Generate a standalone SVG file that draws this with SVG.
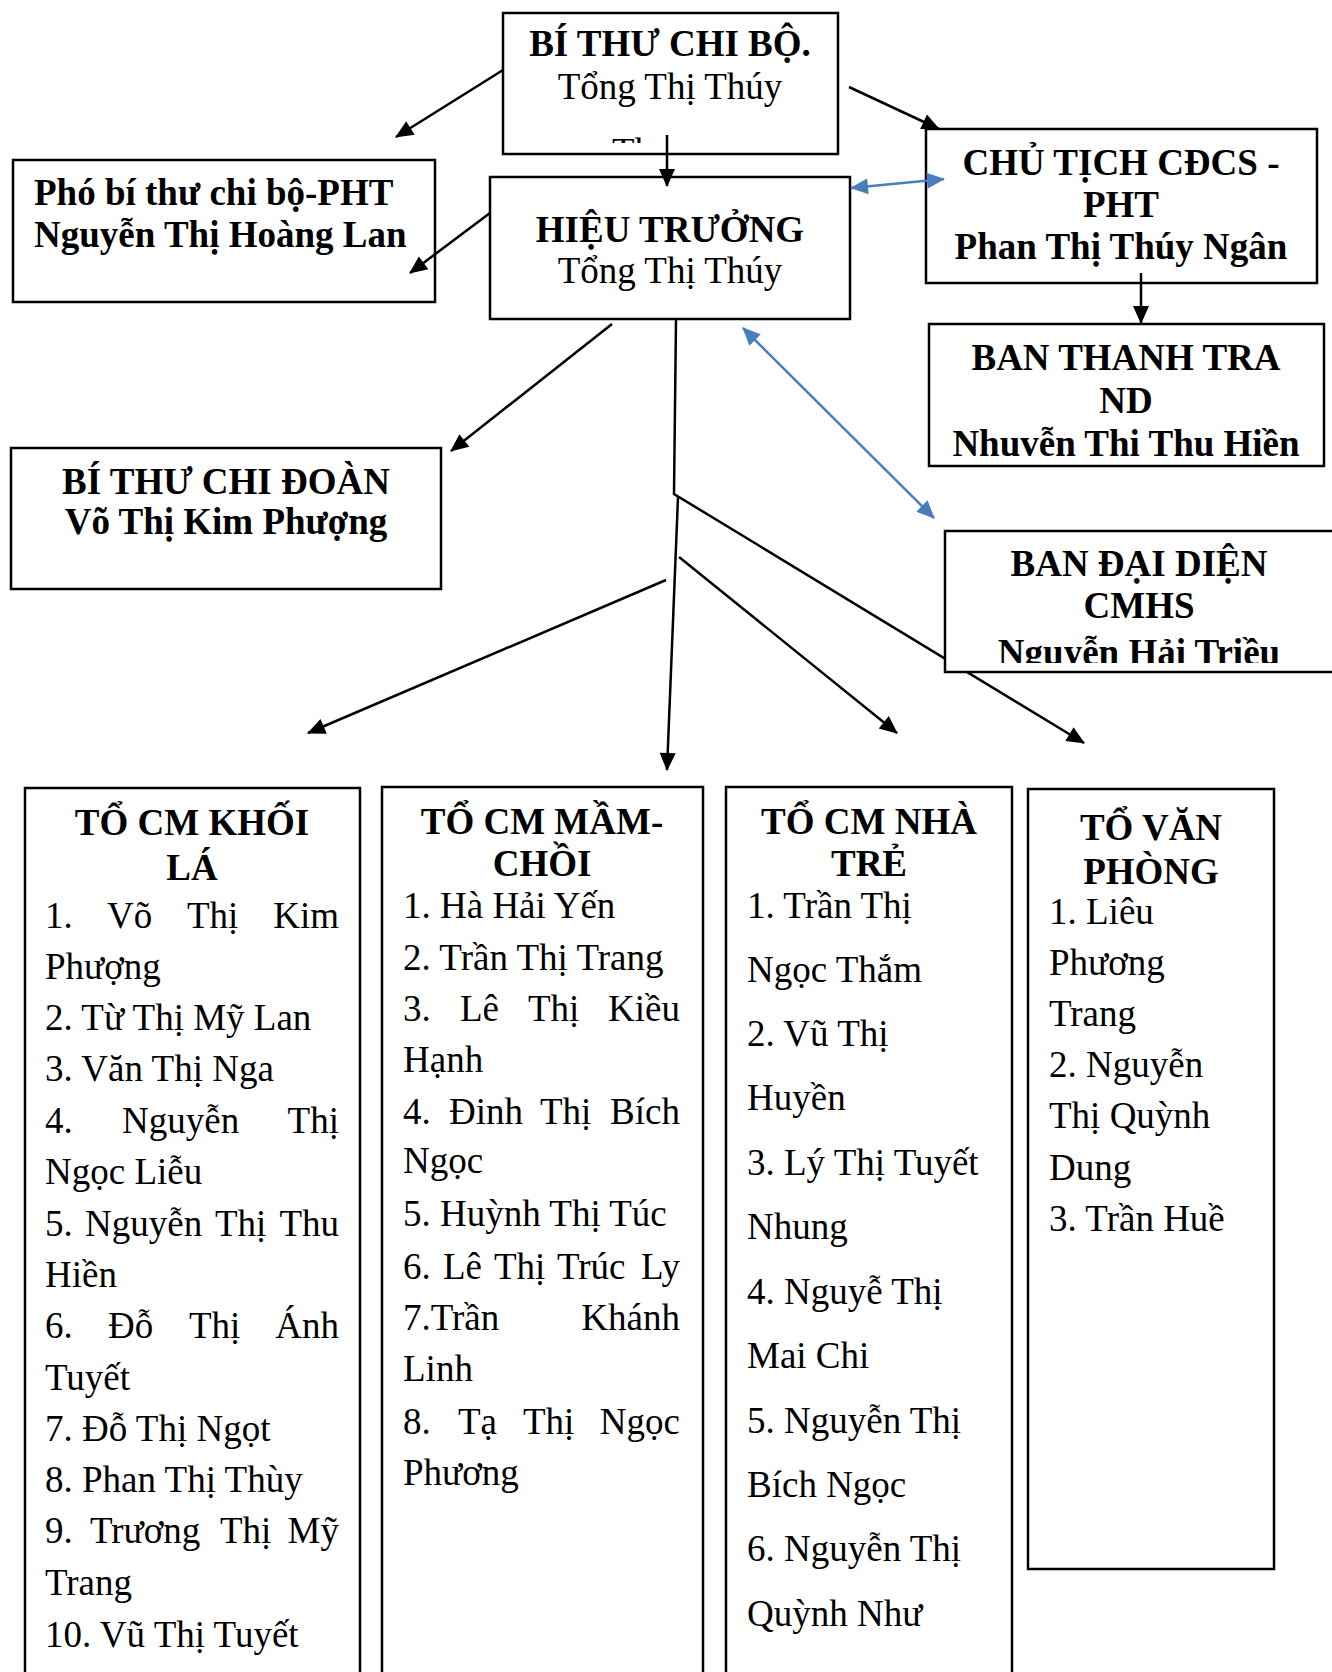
<svg xmlns="http://www.w3.org/2000/svg" width="1332" height="1672" viewBox="0 0 1332 1672">
<style>
.box{fill:#fff;stroke:#000;stroke-width:2.5}
.b{font-family:"Liberation Serif","Times New Roman",serif;font-weight:bold;font-size:37px;fill:#000}
.r{font-family:"Liberation Serif","Times New Roman",serif;font-size:37px;fill:#000}
.c{text-anchor:middle}
.e{text-anchor:end}
.ln{stroke:#000;stroke-width:2.5;fill:none}
.bl{stroke:#4A7EBB;stroke-width:2.5;fill:none}
</style>
<defs>
<marker id="ah" markerUnits="userSpaceOnUse" markerWidth="22" markerHeight="18" refX="17" refY="8" orient="auto" overflow="visible"><path d="M0,0 L18,8 L0,16 z" fill="#000"/></marker>
<marker id="bh" markerUnits="userSpaceOnUse" markerWidth="22" markerHeight="18" refX="17" refY="8" orient="auto-start-reverse" overflow="visible"><path d="M0,0 L18,8 L0,16 z" fill="#4A7EBB"/></marker>
<clipPath id="clipTh"><rect x="503" y="100" width="335" height="43"/></clipPath>
<clipPath id="clipDD"><rect x="945" y="531" width="400" height="132"/></clipPath>
</defs>

<g id="bi-thu-chi-bo">
<rect class="box" x="503" y="13" width="335" height="141"/>
<text class="b c" x="670" y="56">BÍ THƯ CHI BỘ.</text>
<text class="r c" x="670" y="99">Tổng Thị Thúy</text>
<text class="r" x="612" y="164" clip-path="url(#clipTh)">Th</text>
</g>

<g id="pho-bi-thu">
<rect class="box" x="13" y="160" width="422" height="142"/>
<text class="b" x="34" y="205">Phó bí thư chi bộ-PHT</text>
<text class="b" x="34" y="247">Nguyễn Thị Hoàng Lan</text>
</g>

<g id="hieu-truong">
<rect class="box" x="490" y="177" width="360" height="142"/>
<text class="b c" x="670" y="242">HIỆU TRƯỞNG</text>
<text class="r c" x="670" y="283">Tổng Thị Thúy</text>
</g>

<g id="chu-tich">
<rect class="box" x="926" y="129" width="391" height="154"/>
<text class="b c" x="1121" y="175">CHỦ TỊCH CĐCS -</text>
<text class="b c" x="1121" y="217">PHT</text>
<text class="b c" x="1121" y="259">Phan Thị Thúy Ngân</text>
</g>

<g id="ban-thanh-tra">
<rect class="box" x="929" y="324" width="395" height="142"/>
<text class="b c" x="1126" y="370">BAN THANH TRA</text>
<text class="b c" x="1126" y="413">ND</text>
<text class="b c" x="1126" y="456">Nhuvễn Thi Thu Hiền</text>
</g>

<g id="bi-thu-chi-doan">
<rect class="box" x="11" y="448" width="430" height="141"/>
<text class="b c" x="226" y="494">BÍ THƯ CHI ĐOÀN</text>
<text class="b c" x="226" y="534">Võ Thị Kim Phượng</text>
</g>

<g id="to-khoi-la">
<rect class="box" x="25" y="788" width="335" height="920"/>
<text class="b c" x="192" y="835">TỔ CM KHỐI</text>
<text class="b c" x="192" y="880">LÁ</text>
<text class="r" y="928"><tspan x="45">1.</tspan><tspan x="107">Võ</tspan><tspan x="187">Thị</tspan><tspan x="339" text-anchor="end">Kim</tspan></text>
<text class="r" x="45" y="979">Phượng</text>
<text class="r" x="45" y="1030">2. Từ Thị Mỹ Lan</text>
<text class="r" x="45" y="1081">3. Văn Thị Nga</text>
<text class="r" y="1133"><tspan x="45">4.</tspan><tspan x="122">Nguyễn</tspan><tspan x="339" text-anchor="end">Thị</tspan></text>
<text class="r" x="45" y="1184">Ngọc Liễu</text>
<text class="r" y="1236"><tspan x="45">5.</tspan><tspan x="85">Nguyễn</tspan><tspan x="215">Thị</tspan><tspan x="339" text-anchor="end">Thu</tspan></text>
<text class="r" x="45" y="1287">Hiền</text>
<text class="r" y="1338"><tspan x="45">6.</tspan><tspan x="108">Đỗ</tspan><tspan x="189">Thị</tspan><tspan x="339" text-anchor="end">Ánh</tspan></text>
<text class="r" x="45" y="1390">Tuyết</text>
<text class="r" x="45" y="1441">7. Đỗ Thị Ngọt</text>
<text class="r" x="45" y="1492">8. Phan Thị Thùy</text>
<text class="r" y="1543"><tspan x="45">9.</tspan><tspan x="90">Trương</tspan><tspan x="220">Thị</tspan><tspan x="339" text-anchor="end">Mỹ</tspan></text>
<text class="r" x="45" y="1595">Trang</text>
<text class="r" x="45" y="1647">10. Vũ Thị Tuyết</text>
</g>

<g id="to-mam-choi">
<rect class="box" x="382" y="787" width="321" height="920"/>
<text class="b c" x="542" y="834">TỔ CM MẦM-</text>
<text class="b c" x="542" y="876">CHỒI</text>
<text class="r" x="403" y="918">1. Hà Hải Yến</text>
<text class="r" x="403" y="970">2. Trần Thị Trang</text>
<text class="r" y="1021"><tspan x="403">3.</tspan><tspan x="460">Lê</tspan><tspan x="528">Thị</tspan><tspan x="680" text-anchor="end">Kiều</tspan></text>
<text class="r" x="403" y="1072">Hạnh</text>
<text class="r" y="1124"><tspan x="403">4.</tspan><tspan x="449">Đinh</tspan><tspan x="540">Thị</tspan><tspan x="680" text-anchor="end">Bích</tspan></text>
<text class="r" x="403" y="1173">Ngọc</text>
<text class="r" x="403" y="1226">5. Huỳnh Thị Túc</text>
<text class="r" y="1279"><tspan x="403">6.</tspan><tspan x="443">Lê</tspan><tspan x="494">Thị</tspan><tspan x="557">Trúc</tspan><tspan x="680" text-anchor="end">Ly</tspan></text>
<text class="r" y="1330"><tspan x="403">7.Trần</tspan><tspan x="680" text-anchor="end">Khánh</tspan></text>
<text class="r" x="403" y="1381">Linh</text>
<text class="r" y="1434"><tspan x="403">8.</tspan><tspan x="458">Tạ</tspan><tspan x="523">Thị</tspan><tspan x="680" text-anchor="end">Ngọc</tspan></text>
<text class="r" x="403" y="1485">Phương</text>
</g>

<g id="to-nha-tre">
<rect class="box" x="726" y="787" width="286" height="920"/>
<text class="b c" x="869" y="834">TỔ CM NHÀ</text>
<text class="b c" x="869" y="876">TRẺ</text>
<text class="r" x="747" y="918">1. Trần Thị</text>
<text class="r" x="747" y="982">Ngọc Thắm</text>
<text class="r" x="747" y="1046">2. Vũ Thị</text>
<text class="r" x="747" y="1110">Huyền</text>
<text class="r" x="747" y="1175">3. Lý Thị Tuyết</text>
<text class="r" x="747" y="1239">Nhung</text>
<text class="r" x="747" y="1304">4. Nguyễ Thị</text>
<text class="r" x="747" y="1368">Mai Chi</text>
<text class="r" x="747" y="1433">5. Nguyễn Thị</text>
<text class="r" x="747" y="1497">Bích Ngọc</text>
<text class="r" x="747" y="1561">6. Nguyễn Thị</text>
<text class="r" x="747" y="1626">Quỳnh Như</text>
</g>

<g id="to-van-phong">
<rect class="box" x="1028" y="789" width="246" height="780"/>
<text class="b c" x="1151" y="840">TỔ VĂN</text>
<text class="b c" x="1151" y="884">PHÒNG</text>
<text class="r" x="1049" y="924">1. Liêu</text>
<text class="r" x="1049" y="975">Phương</text>
<text class="r" x="1049" y="1026">Trang</text>
<text class="r" x="1049" y="1077">2. Nguyễn</text>
<text class="r" x="1049" y="1128">Thị Quỳnh</text>
<text class="r" x="1049" y="1180">Dung</text>
<text class="r" x="1049" y="1231">3. Trần Huề</text>
</g>

<g id="connectors">
<line class="ln" x1="503" y1="70" x2="396" y2="137" marker-end="url(#ah)"/>
<line class="ln" x1="849" y1="87" x2="939" y2="129" marker-end="url(#ah)"/>
<line class="ln" x1="667" y1="135" x2="667" y2="186" marker-end="url(#ah)"/>
<line class="ln" x1="490" y1="213" x2="410" y2="273" marker-end="url(#ah)"/>
<line class="bl" x1="851" y1="188" x2="944" y2="179" marker-start="url(#bh)" marker-end="url(#bh)"/>
<line class="ln" x1="1141" y1="273" x2="1141" y2="323" marker-end="url(#ah)"/>
<line class="ln" x1="612" y1="324" x2="451" y2="451" marker-end="url(#ah)"/>
<line class="bl" x1="743" y1="328" x2="934" y2="518" marker-start="url(#bh)" marker-end="url(#bh)"/>
<polyline class="ln" points="676,320 674,494 1084,743" marker-end="url(#ah)"/>
<line class="ln" x1="678" y1="497" x2="667" y2="770" marker-end="url(#ah)"/>
<line class="ln" x1="666" y1="580" x2="308" y2="733" marker-end="url(#ah)"/>
<line class="ln" x1="679" y1="557" x2="897" y2="733" marker-end="url(#ah)"/>
</g>

<g id="ban-dai-dien">
<rect class="box" x="945" y="531" width="400" height="141"/>
<text class="b c" x="1139" y="576">BAN ĐẠI DIỆN</text>
<text class="b c" x="1139" y="618">CMHS</text>
<text class="b c" x="1139" y="665" clip-path="url(#clipDD)">Nguyễn Hải Triều</text>
</g>
</svg>
